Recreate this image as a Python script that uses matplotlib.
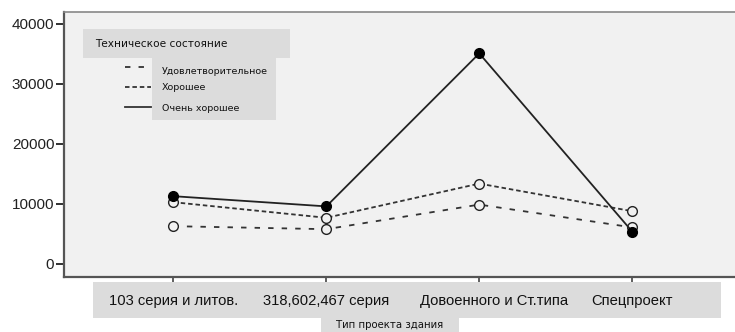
import matplotlib
matplotlib.use("Agg")
import matplotlib.pyplot as plt
from matplotlib.patches import Rectangle
from matplotlib.lines import Line2D

categories = ["103 серия и литов.", "318,602,467 серия", "Довоенного и Ст.типа", "Спецпроект"]
series_names = ["Удовлетворительное", "Хорошее", "Очень хорошее"]
udovl = [6300, 5800, 9900, 6100]
horoshee = [10300, 7700, 13400, 8800]
ochen = [11300, 9600, 35100, 5400]
yticks = [0, 10000, 20000, 30000, 40000]
title_legend = "Техническое состояние"
xlabel = "Тип проекта здания"

plt.rcParams['font.family'] = ['Liberation Sans', 'DejaVu Sans']

W, H = 735, 332
fig = plt.figure(figsize=(W / 100, H / 100), dpi=100)
fig.patch.set_facecolor("white")

def fx(px):
    return px / W

def fy(py):
    return 1 - py / H

ax = fig.add_axes([fx(64), fy(277), 1 - fx(64) + 0.01, fy(12) - fy(277)])
ax.set_facecolor("#f1f1f1")
x = list(range(len(categories)))
bg = "#f1f1f1"
ax.plot(x, udovl, color="#333333", lw=1.3, linestyle=(0, (3, 4.5)),
        marker="o", ms=7, mfc=bg, mec="#222222", mew=1.0, zorder=3)
ax.plot(x, horoshee, color="#333333", lw=1.3, linestyle=(0, (2.5, 1.6)),
        marker="o", ms=7, mfc=bg, mec="#222222", mew=1.0, zorder=4)
ax.plot(x, ochen, color="#222222", lw=1.3, linestyle="-",
        marker="o", ms=7, mfc="black", mec="black", mew=1.0, zorder=5)

ax.set_xlim(-0.715, 3.72)
ax.set_ylim(-2170, 42000)
ax.set_yticks(yticks)
ax.set_yticklabels([str(v) for v in yticks], fontsize=11, color="#222222")
ax.set_xticks(x)
ax.set_xticklabels([])
ax.tick_params(axis="y", direction="out", length=6, width=1.3, color="#222222", pad=1)
ax.tick_params(axis="x", direction="out", length=4, width=1.2, color="#444444")
for s in ["left", "bottom"]:
    ax.spines[s].set_color("#555555")
    ax.spines[s].set_linewidth(1.6)
ax.spines["top"].set_color("#888888")
ax.spines["top"].set_linewidth(1.2)
ax.spines["right"].set_visible(False)

# x tick label band
fig.patches.append(Rectangle((fx(93), fy(318)), fx(721) - fx(93), fy(282) - fy(318),
                             transform=fig.transFigure, facecolor="#dcdcdc", edgecolor="none"))
label_offsets = [0, 0, 15, 0]
for xi, lab, off in zip(x, categories, label_offsets):
    xd = ax.transData.transform((xi, 0))[0]
    xf = fig.transFigure.inverted().transform((xd, 0))[0]
    fig.text(xf + fx(off), fy(301), lab, ha="center", va="center", fontsize=10.6, color="#111111")

# x label
fig.patches.append(Rectangle((fx(321), 0), fx(459) - fx(321), fy(318),
                             transform=fig.transFigure, facecolor="#dcdcdc", edgecolor="none"))
fig.text(fx(390), fy(325), xlabel, ha="center", va="center", fontsize=7.3,
         family=['DejaVu Sans'], color="#111111")

# legend
fig.patches.append(Rectangle((fx(83), fy(58)), fx(290) - fx(83), fy(29) - fy(58),
                             transform=fig.transFigure, facecolor="#dcdcdc", edgecolor="none", zorder=6))
fig.text(fx(95), fy(44), title_legend, ha="left", va="center", fontsize=7.6,
         family=['DejaVu Sans'], color="#111111", zorder=7)
fig.patches.append(Rectangle((fx(152), fy(120)), fx(276) - fx(152), fy(58) - fy(120),
                             transform=fig.transFigure, facecolor="#dcdcdc", edgecolor="none", zorder=6))
styles = [(0, (3, 4.5)), (0, (2.5, 1.6)), "-"]
label_ys = [72, 88, 108]
sample_ys = [67, 87, 107]
for name, st, yy, sy in zip(series_names, styles, label_ys, sample_ys):
    fig.lines.append(Line2D([fx(125), fx(151)], [fy(sy), fy(sy)], transform=fig.transFigure,
                            color="#333333", lw=1.3, linestyle=st, zorder=7))
    fig.text(fx(162), fy(yy), name, ha="left", va="center", fontsize=6.8,
             family=['DejaVu Sans'], color="#111111", zorder=7)

fig.savefig("out.png", dpi=100, facecolor="white")
